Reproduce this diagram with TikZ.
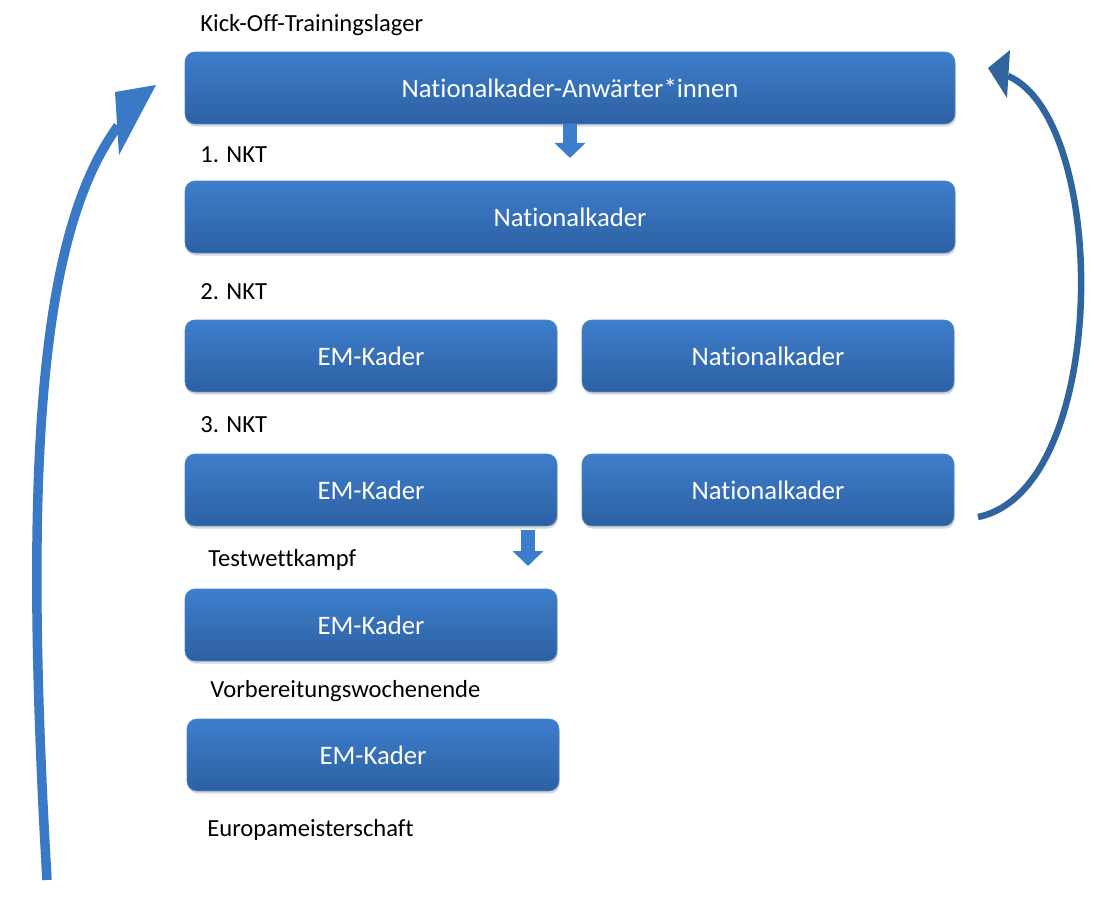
\documentclass[tikz,border=0pt]{standalone}
\usepackage{fontspec}
\setmainfont{Carlito}[Ligatures={NoCommon}]
\usetikzlibrary{positioning,calc,arrows.meta,shadows}

\definecolor{boxtop}{HTML}{3D7ECC}
\definecolor{boxbot}{HTML}{2D60A2}
\definecolor{boxrim}{HTML}{4A86CF}
\definecolor{arcleft}{HTML}{3A79C6}
\definecolor{arcright}{HTML}{2F649F}

\tikzset{
	kader/.style={shape=rectangle, rounded corners=0.2cm, top color=boxtop, bottom color=boxbot, draw=boxrim, line width=0.4pt, text=white, font=\fontsize{15.2}{17}\selectfont, minimum height=1.44cm, drop shadow={opacity=0.3, shadow xshift=0.5pt, shadow yshift=-1.5pt}},
	breit/.style={kader, minimum width=15.4cm},
	halb/.style={kader, minimum width=7.44cm},
	stufe/.style={anchor=west, inner sep=0pt, font=\fontsize{14}{16}\selectfont},
	runter/.style={draw=boxtop, line width=0.28cm, -{Triangle[width=0.6cm, length=0.3cm]}},
}

\begin{document}
\begin{tikzpicture}[x=0.02cm, y=-0.02cm]
		\useasboundingbox (0, 0) rectangle (1098, 908);

		\node[stufe] (kickoff) at (200, 25) {Kick-Off-Trainingslager};
		\node[breit] (anwaerter) at (570, 88) {Nationalkader-Anwärter*innen};

		\node[stufe] (nkt1) at (200, 155) {1. NKT};
		\node[breit] (nk1) at (570, 217) {Nationalkader};

		\node[stufe] (nkt2) at (200, 292) {2. NKT};
		\node[halb] (em2) at (371, 356) {EM-Kader};
		\node[halb] (nk2) at (768, 356) {Nationalkader};

		\node[stufe] (nkt3) at (200, 425) {3. NKT};
		\node[halb] (em3) at (371, 490) {EM-Kader};
		\node[halb] (nk3) at (768, 490) {Nationalkader};

		\node[stufe] (test) at (208, 560) {Testwettkampf};
		\node[halb] (em4) at (371, 625) {EM-Kader};

		\node[stufe] (vorb) at (210, 691) {Vorbereitungswochenende};
		\node[halb] (em5) at (373, 755) {EM-Kader};

		\node[stufe] (em) at (207, 830) {Europameisterschaft};

		% kleine Pfeile nach unten
		\coordinate (d1) at (570, 158);
		\draw[runter] (anwaerter.south -| d1) -- (d1);
		\coordinate (d2a) at (528, 530);
		\coordinate (d2) at (528, 566);
		\draw[runter] (d2a) -- (d2);

		% grosse Bogenpfeile
		\coordinate (lstart) at (47, 880);
		\coordinate (lneck) at (118, 126);
		\coordinate (ltip) at (156, 85);
		\draw[draw=arcleft, line width=0.19cm] (lstart) .. controls (22, 450) and (42, 230) .. (lneck);
		\fill[arcleft] (ltip) -- (115, 92) -- (119, 155) -- cycle;

		\coordinate (rstart) at (978, 517);
		\coordinate (rneck) at (1008, 76);
		\coordinate (rtip) at (988, 68);
		\draw[draw=arcright, line width=0.13cm] (rstart) .. controls (1110, 490) and (1110, 120) .. (rneck);
		\fill[arcright] (rtip) -- (1010, 50) -- (1007, 98) -- cycle;
	\end{tikzpicture}
\end{document}
